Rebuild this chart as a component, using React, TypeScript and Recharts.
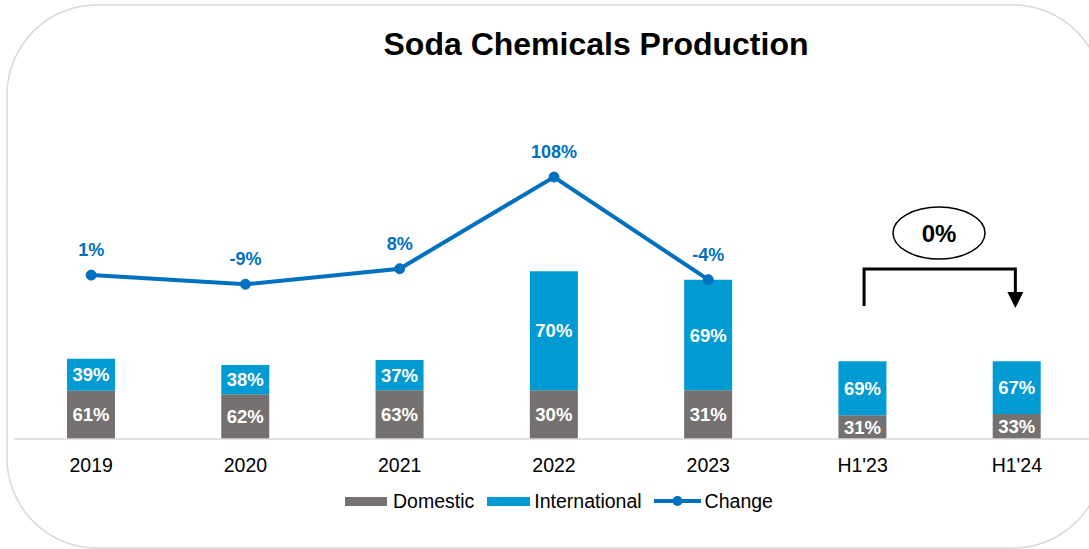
import React from 'react';
import { ComposedChart, Bar, Line, XAxis, YAxis, LabelList, Legend } from 'recharts';

const categories = ['2019', '2020', '2021', '2022', '2023', "H1'23", "H1'24"];
const domestic = [48.3, 44.7, 48.7, 48.7, 48.7, 23.7, 25];
const international = [32, 29.3, 30.3, 119, 110.6, 54, 52.7];
const domesticShare = [61, 62, 63, 30, 31, 31, 33];
const internationalShare = [39, 38, 37, 70, 69, 69, 67];
const change: (number | null)[] = [1, -9, 8, 108, -4, null, null];
const periodChange = '0%';

const FONT = '"Liberation Sans", Arial, sans-serif';
const GRAY = '#767171';
const BLUE = '#009BD2';
const LINE = '#0070C0';

const data = categories.map((c, i) => ({
  name: c,
  domestic: domestic[i],
  international: international[i],
  domShare: domesticShare[i],
  intShare: internationalShare[i],
  change: change[i],
}));

const pct = (v: any) => (v === null || v === undefined ? '' : `${v}%`);

const CategoryTick = (props: any) => {
  const { x, y, payload } = props;
  return (
    <text x={x} y={y + 33} textAnchor="middle" fill="#000" fontSize={19.5} fontFamily={FONT}>
      {payload.value}
    </text>
  );
};

const LegendContent = () => (
  <div
    style={{
      display: 'flex',
      alignItems: 'center',
      fontFamily: FONT,
      fontSize: 19.5,
      color: '#000',
      marginLeft: 345,
      height: 24,
      whiteSpace: 'nowrap',
    }}
  >
    <span style={{ width: 42, height: 9, background: GRAY, display: 'inline-block' }} />
    <span style={{ marginLeft: 6 }}>Domestic</span>
    <span style={{ width: 43, height: 9, background: BLUE, display: 'inline-block', marginLeft: 13 }} />
    <span style={{ marginLeft: 4 }}>International</span>
    <svg width={47} height={14} style={{ marginLeft: 12 }}>
      <line x1={0} y1={7} x2={47} y2={7} stroke={LINE} strokeWidth={4} />
      <circle cx={23.5} cy={7} r={5} fill={LINE} />
    </svg>
    <span style={{ marginLeft: 4 }}>Change</span>
  </div>
);

export default function App() {
  const h1a = 14 + (1080 / 7) * 5.5;
  const h1b = 14 + (1080 / 7) * 6.5;
  return (
    <div style={{ position: 'absolute', left: 0, top: 0, width: 1089, height: 549, overflow: 'hidden', background: '#fff' }}>
      <svg width={1089} height={549} style={{ position: 'absolute', left: 0, top: 0 }}>
        <rect x={7} y={5} width={1096} height={543} rx={90} ry={90} fill="#fff" stroke="#D9D9D9" strokeWidth={1.5} />
      </svg>
      <div style={{ position: 'absolute', left: 0, top: 0 }}>
        <ComposedChart
          width={1104}
          height={549}
          data={data}
          margin={{ top: 139, right: 10, bottom: 80, left: 14 }}
        >
          <XAxis
            dataKey="name"
            xAxisId="x"
            height={30}
            axisLine={{ stroke: '#D9D9D9', strokeWidth: 1.5 }}
            tickLine={false}
            tickSize={0}
            tickMargin={0}
            tick={<CategoryTick />}
            interval={0}
          />
          <YAxis yAxisId="left" domain={[0, 300]} hide />
          <YAxis yAxisId="right" orientation="right" domain={[-177.8, 149.5]} hide />
          <Bar dataKey="domestic" name="Domestic" stackId="a" xAxisId="x" yAxisId="left" fill={GRAY} barSize={48} isAnimationActive={false}>
            <LabelList dataKey="domShare" position="center" formatter={pct} fill="#fff" fontSize={18.5} fontWeight="bold" fontFamily={FONT} />
          </Bar>
          <Bar dataKey="international" name="International" stackId="a" xAxisId="x" yAxisId="left" fill={BLUE} barSize={48} isAnimationActive={false}>
            <LabelList dataKey="intShare" position="center" formatter={pct} fill="#fff" fontSize={18.5} fontWeight="bold" fontFamily={FONT} />
          </Bar>
          <Line
            dataKey="change"
            name="Change"
            xAxisId="x"
            yAxisId="right"
            stroke={LINE}
            strokeWidth={4}
            dot={{ r: 5, fill: LINE, stroke: LINE, strokeWidth: 1 }}
            activeDot={false}
            connectNulls={false}
            isAnimationActive={false}
          >
            <LabelList dataKey="change" position="top" offset={19} formatter={pct} fill={LINE} fontSize={18} fontWeight="bold" fontFamily={FONT} />
          </Line>
          <Legend
            layout="horizontal"
            verticalAlign="middle"
            align="center"
            content={<LegendContent />}
            wrapperStyle={{ position: 'absolute', top: 489, left: 0, width: 1089, height: 24 }}
          />
        </ComposedChart>
      </div>
      <svg width={1089} height={549} style={{ position: 'absolute', left: 0, top: 0, pointerEvents: 'none' }}>
        <text x={596} y={55} textAnchor="middle" fontSize={32} fontWeight="bold" fontFamily={FONT} fill="#000">
          Soda Chemicals Production
        </text>
        <ellipse cx={939} cy={233} rx={46} ry={26} fill="#fff" stroke="#000" strokeWidth={1.5} />
        <text x={939} y={242} textAnchor="middle" fontSize={24} fontWeight="bold" fontFamily={FONT} fill="#000">
          {periodChange}
        </text>
        <polyline points={`${h1a + 1.5},306 ${h1a + 1.5},269 ${h1b - 1.5},269 ${h1b - 1.5},294`} fill="none" stroke="#000" strokeWidth={3} />
        <polygon points={`${h1b - 9.5},292 ${h1b + 6.5},292 ${h1b - 1.5},308`} fill="#000" />
      </svg>
    </div>
  );
}
